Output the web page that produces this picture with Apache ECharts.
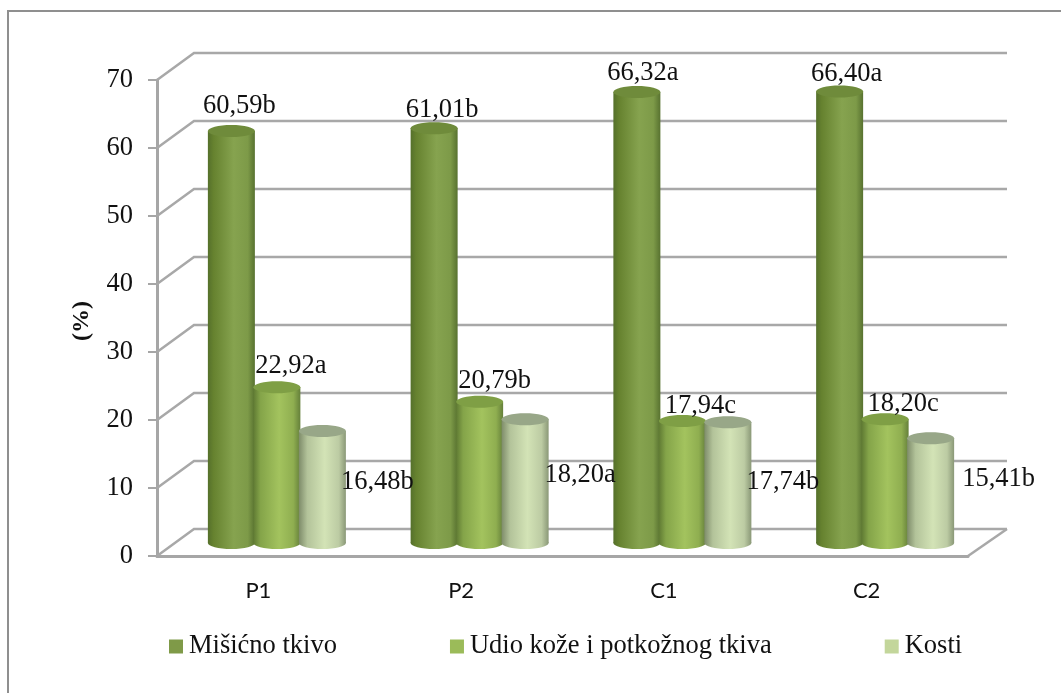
<!DOCTYPE html>
<html><head><meta charset="utf-8">
<style>html,body{margin:0;padding:0;background:#fff}#c{width:1061px;height:693px}</style>
<script src="https://cdn.jsdelivr.net/npm/echarts@6/dist/echarts.min.js"></script>
</head><body><div id="c"></div>
<script>
const categories = ['P1','P2','C1','C2'];
const seriesNames = ['Mišićno tkivo','Udio kože i potkožnog tkiva','Kosti'];
const misicno = [60.59,61.01,66.32,66.40];
const udio = [22.92,20.79,17.94,18.20];
const kosti = [16.48,18.20,17.74,15.41];
const misicnoLetters = ['b','b','a','a'];
const udioLetters = ['a','b','c','c'];
const kostiLetters = ['b','a','b','b'];
const gridValues = [0,10,20,30,40,50,60,70];

const SERIF = '"Liberation Serif","Times New Roman",serif';
const DEPTH = [37,-27];
const BAR_SHIFT = [18.5,-13];
const BAR_W = 47, BAR_STEP = 45.5, ELL = 6;
const labelNudge = [
  [[8,-25],[8,-18],[6,-19],[7,-17]],
  [[14,-21],[15,-21],[18,-15],[18,-15]],
  [[55,51],[55,56],[55,60],[68,41]]
];
const looks = [
  {legend:'#7f9a48',top:'#6f8b3b',stops:[[0,'#55702b'],[0.12,'#66822f'],[0.55,'#86a34f'],[0.85,'#7d9a48'],[1,'#587230']]},
  {legend:'#9bbb59',top:'#7f9f45',stops:[[0,'#5f7a33'],[0.15,'#84a449'],[0.55,'#a3c35e'],[0.85,'#8fae50'],[1,'#65803a']]},
  {legend:'#c3d69b',top:'#98a788',stops:[[0,'#7e8c6a'],[0.18,'#b3c39a'],[0.55,'#d3e3b6'],[0.85,'#bccba3'],[1,'#8a9877']]}
];
function grad(stops){
  return new echarts.graphic.LinearGradient(0,0,1,0,stops.map(s=>({offset:s[0],color:s[1]})));
}
function rows(vals,letters){
  return vals.map((v,i)=>[i,v,v.toFixed(2).replace('.',',')+letters[i]]);
}
function cylinderSeries(k,vals,letters){
  return {
    name:seriesNames[k], type:'custom', z:5+k,
    itemStyle:{color:looks[k].legend},
    encode:{x:0,y:1},
    data:rows(vals,letters),
    renderItem(params,api){
      const i=api.value(0), v=api.value(1);
      const top=api.coord([i,v]), base=api.coord([i,0]);
      const cx=top[0]+BAR_SHIFT[0]+(k-1)*BAR_STEP;
      const ty=top[1]+BAR_SHIFT[1], by=base[1]+BAR_SHIFT[1];
      const r=BAR_W/2, fill=grad(looks[k].stops), n=labelNudge[k][i];
      return {type:'group',children:[
        {type:'ellipse',shape:{cx:cx,cy:by,rx:r,ry:ELL},style:{fill:fill}},
        {type:'rect',shape:{x:cx-r,y:ty,width:BAR_W,height:by-ty},style:{fill:fill}},
        {type:'ellipse',shape:{cx:cx,cy:ty,rx:r,ry:ELL},style:{fill:looks[k].top}},
        {type:'text',z2:50,style:{x:cx+n[0],y:ty+n[1],text:api.value(2),font:'26.5px '+SERIF,fill:'#111',align:'center',verticalAlign:'middle'}}
      ]};
    }
  };
}
const wallSeries = {
  type:'custom', z:2, silent:true, clip:false,
  encode:{y:0},
  data:gridValues.map(v=>[v]),
  renderItem(params,api){
    const v=api.value(0);
    const a=api.coord([0,v]);
    const xl=params.coordSys.x, xr=xl+params.coordSys.width;
    const line={stroke:'#a8a8a8',lineWidth:2.5,fill:null};
    const kids=[{type:'polyline',shape:{points:[[xl,a[1]],[xl+DEPTH[0],a[1]+DEPTH[1]],[xr+DEPTH[0]+2,a[1]+DEPTH[1]]]},style:line}];
    if(v===0) kids.push({type:'line',shape:{x1:xr,y1:a[1],x2:xr+DEPTH[0]+2,y2:a[1]+DEPTH[1]},style:line});
    return {type:'group',children:kids};
  }
};
const chart = echarts.init(document.getElementById('c'),null,{renderer:'canvas'});
chart.setOption({
  animation:false,
  backgroundColor:'#fff',
  graphic:[{type:'polyline',silent:true,z:-1,shape:{points:[[8,693],[8,11],[1061,11]]},style:{fill:null,stroke:'#8f8f8f',lineWidth:2}}],
  grid:{left:157,top:80,width:811,height:476,containLabel:false},
  legend:{left:169,top:633,padding:0,itemWidth:14,itemHeight:14,itemGap:113,icon:'rect',
    data:seriesNames,selectedMode:false,
    textStyle:{fontFamily:SERIF,fontSize:26.5,color:'#111',padding:[0,0,0,1]}},
  xAxis:{type:'category',data:categories,
    axisLine:{lineStyle:{color:'#a6a6a6',width:3}},axisTick:{show:false},
    axisLabel:{margin:24,fontFamily:'Lato',fontSize:22,color:'#111'}},
  yAxis:{type:'value',min:0,max:70,interval:10,
    name:'(%)',nameLocation:'middle',nameGap:63,nameRotate:90,
    nameTextStyle:{fontFamily:SERIF,fontSize:24,fontWeight:'bold',color:'#111',padding:[0,6,0,0]},
    axisLine:{show:true,lineStyle:{color:'#a6a6a6',width:3}},
    axisTick:{show:true,length:9,lineStyle:{color:'#a6a6a6',width:2}},
    splitLine:{show:false},
    axisLabel:{margin:24,fontFamily:SERIF,fontSize:26.5,color:'#111',padding:[5,0,0,0]}},
  series:[wallSeries,cylinderSeries(0,misicno,misicnoLetters),cylinderSeries(1,udio,udioLetters),cylinderSeries(2,kosti,kostiLetters)]
});
</script></body></html>
